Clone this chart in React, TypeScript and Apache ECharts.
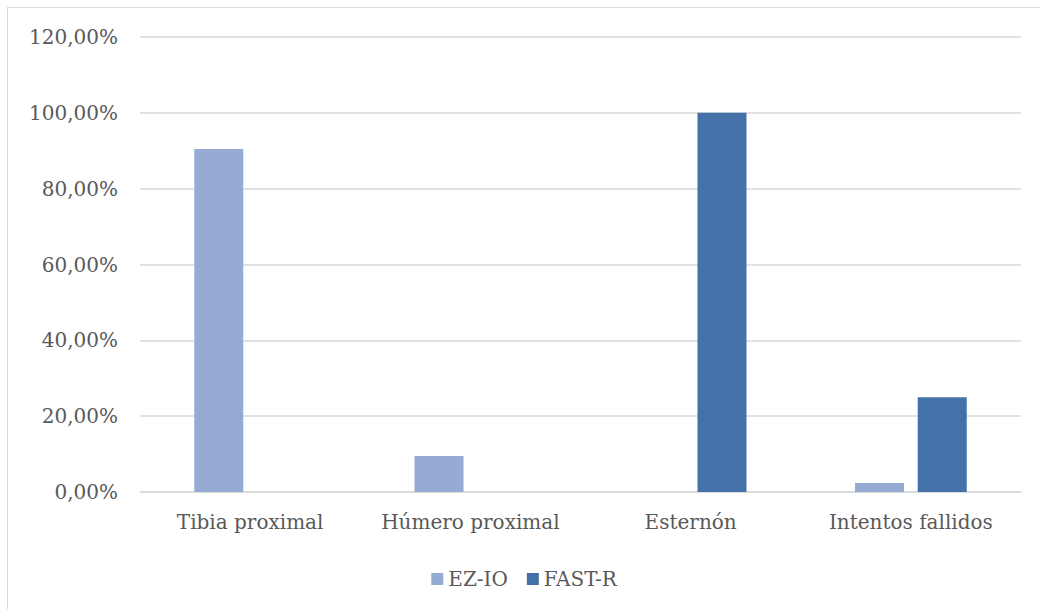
import React, { useEffect, useRef } from "react";
import * as echarts from "echarts";

const categories = ["Tibia proximal", "Húmero proximal", "Esternón", "Intentos fallidos"];
const seriesNames = ["EZ-IO", "FAST-R"];
const ezIoValues = [90.48, 9.52, 0, 2.38];
const fastRValues = [0, 0, 100, 25];
const yTicks = { min: 0, max: 120, interval: 20 };

const FONT = "'DejaVu Serif', 'Liberation Serif', serif";
const TEXT = "#595959";

export default function App() {
  const ref = useRef<HTMLDivElement>(null);
  useEffect(() => {
    if (!ref.current) return;
    const chart = echarts.init(ref.current, undefined, { renderer: "svg" });
    chart.setOption({
      animation: false,
      textStyle: { fontFamily: FONT },
      grid: { left: 132, top: 29, width: 881, height: 455, containLabel: false },
      legend: {
        data: seriesNames,
        top: 556,
        left: "center",
        icon: "rect",
        itemWidth: 12,
        itemHeight: 12,
        itemGap: 19,
        textStyle: { fontFamily: FONT, fontSize: 20, color: TEXT },
      },
      xAxis: {
        type: "category",
        data: categories,
        axisLine: { show: true, lineStyle: { color: "#d9d9d9", width: 1.5 } },
        axisTick: { show: false },
        axisLabel: {
          fontFamily: FONT,
          fontSize: 20,
          color: TEXT,
          margin: 20,
          interval: 0,
          hideOverlap: false,
        },
      },
      yAxis: {
        type: "value",
        min: yTicks.min,
        max: yTicks.max,
        interval: yTicks.interval,
        axisLine: { show: false },
        axisTick: { show: false },
        splitLine: { lineStyle: { color: "#d9d9d9", width: 1.5 } },
        axisLabel: {
          fontFamily: FONT,
          fontSize: 20,
          color: TEXT,
          margin: 22,
          formatter: (v: number) => v.toFixed(2).replace(".", ",") + "%",
        },
      },
      series: [
        {
          name: seriesNames[0],
          type: "bar",
          data: ezIoValues,
          barWidth: 49,
          barGap: "28%",
          itemStyle: { color: "#95abd3" },
        },
        {
          name: seriesNames[1],
          type: "bar",
          data: fastRValues,
          barWidth: 49,
          barGap: "28%",
          itemStyle: { color: "#4472a8" },
        },
      ],
    });
    return () => chart.dispose();
  }, []);
  return (
    <div
      style={{
        position: "absolute",
        left: 7,
        top: 7,
        width: 1033,
        height: 602,
        boxSizing: "border-box",
        borderTop: "1px solid #d9d9d9",
        borderLeft: "1px solid #d9d9d9",
        background: "#fff",
      }}
    >
      <div ref={ref} style={{ width: 1032, height: 601 }} />
    </div>
  );
}
